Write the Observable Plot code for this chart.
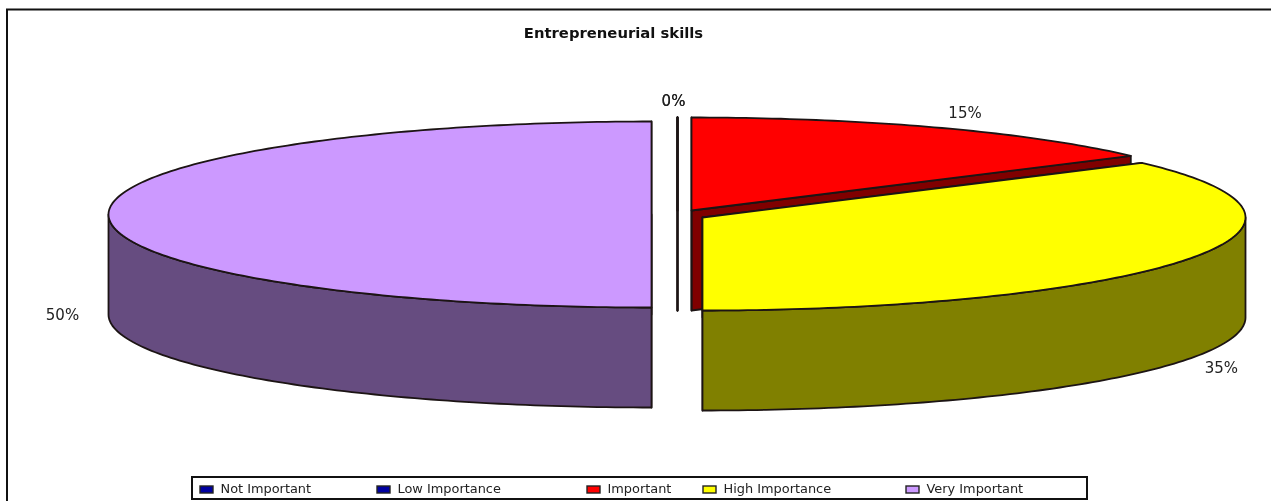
<!DOCTYPE html>
<html>
<head>
<meta charset="utf-8">
<script src="https://cdn.jsdelivr.net/npm/d3@7"></script>
<script src="https://cdn.jsdelivr.net/npm/@observablehq/plot@0.6"></script>
<style>
html,body{margin:0;padding:0;background:#fff;overflow:hidden}
svg{display:block;filter:blur(0.55px)}
</style>
</head>
<body>
<div id="chart"></div>
<script>
const titleText = "Entrepreneurial skills";
const categories = ["Not Important", "Low Importance", "Important", "High Importance", "Very Important"];
const shares = [0, 0, 15, 35, 50];
const topColors = ["#0000a0", "#0000a0", "#ff0000", "#ffff00", "#cc99ff"];
const wallColors = ["#000050", "#000050", "#800000", "#808000", "#664c80"];

// pie projection
const rx = 543, ry = 93, depth = 100;
const explodedX = [677, 677, 691, 702, 651];
const explodedY = [210, 210, 210, 217, 214];
const labelNudgeX = [-4, -4, 27, 35, -46];
const labelNudgeY = [-16, -16, -14, 8, 1];
// legend layout
const legendSwatchX = [200, 377, 587, 703, 906];
const legendBox = {x1: 192, x2: 1087, y1: 477, y2: 499};
const chartFrame = {x1: 7, x2: 1300, y1: 9.5, y2: 530};

const rad = d => d * Math.PI / 50;
let cum = 0;
const slices = shares.map((v, i) => {
  const s = {i, a0: rad(cum), a1: rad(cum + v), cx: explodedX[i], cy: explodedY[i], v};
  cum += v;
  return s;
});
const rim = (s, a, drop = 0) => ({x: s.cx + rx * Math.sin(a), y: s.cy - ry * Math.cos(a) + drop});
const arc = (s, a0, a1, drop = 0) => {
  const n = Math.max(1, Math.round(Math.abs(a1 - a0) * 60));
  return d3.range(n + 1).map(k => rim(s, a0 + (a1 - a0) * k / n, drop));
};
const topFace = s => {
  const c = {x: s.cx, y: s.cy};
  return [c, ...arc(s, s.a0, s.a1), c];
};
const cutWall = (s, a) => {
  const c = {x: s.cx, y: s.cy}, r = rim(s, a);
  return [c, r, {x: r.x, y: r.y + depth}, {x: c.x, y: c.y + depth}, c];
};
const rimWall = s => {
  // only the part of the rim that faces the viewer (90deg .. 270deg)
  const a0 = Math.max(s.a0, Math.PI / 2), a1 = Math.min(s.a1, Math.PI * 1.5);
  if (a1 <= a0) return null;
  const up = arc(s, a0, a1), down = arc(s, a0, a1, depth).reverse();
  return [...up, ...down, up[0]];
};
const edge = "#1c1414";
const poly = (pts, fill) => Plot.line(pts, {x: "x", y: "y", fill, stroke: edge, strokeWidth: 1.8, curve: "linear", strokeLinejoin: "round"});

const drawOrder = [4, 0, 1, 2, 3];
const pieMarks = drawOrder.flatMap(i => {
  const s = slices[i], out = [];
  out.push(poly(cutWall(s, s.a1), wallColors[i]));
  out.push(poly(cutWall(s, s.a0), wallColors[i]));
  const w = rimWall(s);
  if (w) out.push(poly(w, wallColors[i]));
  out.push(poly(topFace(s), topColors[i]));
  return out;
});

const labels = slices.map(s => {
  const m = (s.a0 + s.a1) / 2;
  const front = m >= Math.PI / 2 && m <= Math.PI * 1.5;
  const p = rim(s, m, front ? depth : 0);
  return {x: p.x + labelNudgeX[s.i], y: p.y + labelNudgeY[s.i], t: s.v + "%"};
});

const legendRows = categories.map((c, i) => ({
  name: c, x: legendSwatchX[i], fill: topColors[i]
}));

const font = "'DejaVu Sans', sans-serif";
const plot = Plot.plot({
  width: 1271, height: 501,
  margin: 0,
  style: {background: "#fff"},
  x: {domain: [0, 1271], range: [0, 1271], axis: null},
  y: {domain: [0, 501], range: [0, 501], axis: null},
  marks: [
    Plot.rect([chartFrame], {x1: "x1", x2: "x2", y1: "y1", y2: "y2", fill: "#fff", stroke: "#111", strokeWidth: 2, clip: false}),
    Plot.text([titleText], {x: () => 613, y: () => 33, text: d => d, fontFamily: font, fontWeight: "bold", fontSize: 14.8, fill: "#111", lineAnchor: "middle"}),
    ...pieMarks,
    Plot.text(labels, {x: "x", y: "y", text: "t", fontFamily: font, fontSize: 15, fill: "#222", textAnchor: "middle", lineAnchor: "middle"}),
    Plot.rect([legendBox], {x1: "x1", x2: "x2", y1: "y1", y2: "y2", fill: "#fff", stroke: "#111", strokeWidth: 2}),
    Plot.rect(legendRows, {x1: "x", x2: d => d.x + 13, y1: () => 486, y2: () => 493, fill: "fill", stroke: "#222", strokeWidth: 1.4}),
    Plot.text(legendRows, {x: d => d.x + 20, y: () => 488, text: "name", fontFamily: font, fontSize: 12.9, fill: "#222", textAnchor: "start", lineAnchor: "middle"})
  ]
});
document.getElementById("chart").appendChild(plot);
</script>
</body>
</html>
